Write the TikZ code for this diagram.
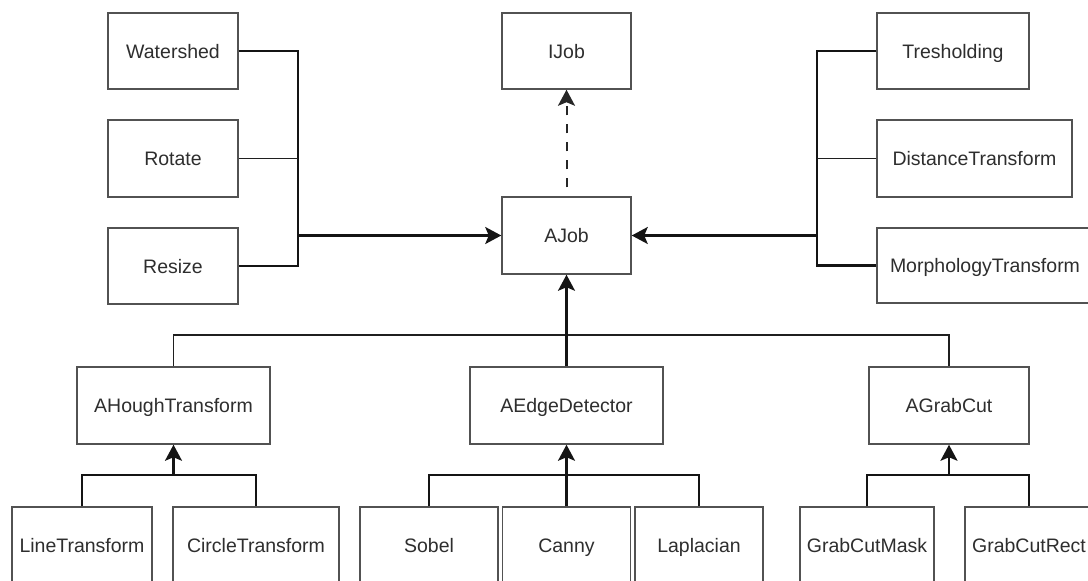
\documentclass[tikz,border=0pt]{standalone}
\usepackage{fontspec}
\setmainfont{Liberation Sans}
\usetikzlibrary{arrows.meta}
\tikzset{
  cls/.style={draw=black!68, line width=1.5pt, fill=white, rectangle,
    minimum height=77pt, inner sep=0pt, text=black!82,
    text height=14pt, text depth=0pt,
    font=\fontsize{19.5}{23}\selectfont},
  thinline/.style={draw=black!88, line width=1.2pt},
  thickline/.style={draw=black!92, line width=2.2pt},
  inherit/.style={-{Stealth[length=16pt,width=17pt,inset=3.5pt]}},
  realize/.style={draw=black!85, line width=2pt, dash pattern=on 9pt off 9pt,
    dash phase=9pt, -{Stealth[length=16pt,width=17pt,inset=3.5pt]}}
}
\begin{document}
\begin{tikzpicture}[x=1pt,y=-1pt]
\useasboundingbox (0,0) rectangle (1088,581);
\clip (0,0) rectangle (1088,581);
\fill[white] (0,0) rectangle (1088,581);

% top row: operation classes and interfaces
\node[cls, minimum width=130pt, minimum height=76pt] (ws)   at (173,51)    {Watershed};
\node[cls, minimum width=130pt] (rot)  at (173,158.5) {Rotate};
\node[cls, minimum width=130pt, minimum height=76pt] (rsz)  at (173,266)   {Resize};
\node[cls, minimum width=129pt, minimum height=76pt] (ijob) at (566.5,51)  {IJob};
\node[cls, minimum width=129pt] (ajob) at (566.5,235.5) {AJob};
\node[cls, minimum width=152pt, minimum height=76pt] (thr)  at (953,51)    {Tresholding};
\node[cls, minimum width=195pt] (dist) at (974.5,158.5) {DistanceTransform};
\node[cls, minimum width=216pt, minimum height=75pt] (morph) at (985,265.5) {MorphologyTransform};

% middle row: abstract families
\node[cls, minimum width=193pt] (hough) at (173.5,405.5) {AHoughTransform};
\node[cls, minimum width=193pt] (edge)  at (566.5,405.5) {AEdgeDetector};
\node[cls, minimum width=160pt] (grab)  at (949,405.5)   {AGrabCut};

% bottom row: concrete implementations
\node[cls, minimum width=140pt] (line)   at (82,545.5)    {LineTransform};
\node[cls, minimum width=166pt] (circle) at (256,545.5)   {CircleTransform};
\node[cls, minimum width=138pt] (sobel)  at (429,545.5)   {Sobel};
\node[cls, minimum width=128pt] (canny)  at (566.5,545.5) {Canny};
\node[cls, minimum width=128pt] (lap)    at (699,545.5)   {Laplacian};
\node[cls, minimum width=134pt] (mask)   at (867,545.5)   {GrabCutMask};
\node[cls, minimum width=128pt] (rect)   at (1029,545.5)  {GrabCutRect};

% junction points of the connector buses
\coordinate (lb) at (298,235.5);
\coordinate (rb) at (817,235.5);
\coordinate (tb) at (566.5,335);
\coordinate (hb) at (173.5,475);
\coordinate (eb) at (566.5,475);
\coordinate (gb) at (949,475);

% left group -> AJob
\draw[thickline] (ws.east) -| (lb);
\draw[thickline] (rsz.east) -| (lb);
\draw[thinline] (rot.east) -- (rot.east -| lb);
\draw[thickline, inherit] (lb) -- (ajob.west);

% right group -> AJob
\draw[thickline] (thr.west) -| (rb);
\draw[thickline] (morph.west) -| (rb);
\draw[thinline] (dist.west) -- (dist.west -| rb);
\draw[thickline, inherit] (rb) -- (ajob.east);

% AJob realizes IJob
\draw[realize] (ajob.north) -- (ijob.south);

% abstract families -> AJob
\draw[thinline] (hough.north) |- (tb) -| (grab.north);
\draw[thickline, inherit] (edge.north) -- (ajob.south);

% implementations -> families
\draw[thickline] (line.north) |- (hb) -| (circle.north);
\draw[thickline, inherit] (hb) -- (hough.south);
\draw[thickline] (sobel.north) |- (eb) -| (lap.north);
\draw[thickline, inherit] (canny.north) -- (edge.south);
\draw[thickline] (mask.north) |- (gb) -| (rect.north);
\draw[thickline, inherit] (gb) -- (grab.south);
\end{tikzpicture}
\end{document}
